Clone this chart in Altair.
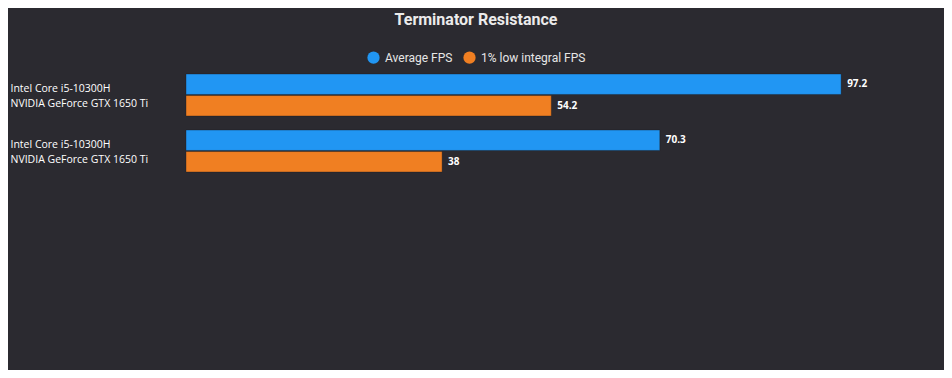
import altair as alt
import pandas as pd

groups = ["Intel Core i5-10300H|NVIDIA GeForce GTX 1650 Ti",
          "Intel Core i5-10300H|NVIDIA GeForce GTX 1650 Ti "]
series = ["Average FPS", "1% low integral FPS"]
avg_fps = [97.2, 70.3]
low_fps = [54.2, 38]
colors = ["#2196f3", "#f07f22"]

rows = []
for i, g in enumerate(groups):
    rows.append({"group": g, "series": series[0], "value": avg_fps[i], "order": 0})
    rows.append({"group": g, "series": series[1], "value": low_fps[i], "order": 1})
df = pd.DataFrame(rows)

BG = "#2b2a30"

y_enc = alt.Y("group:N", sort=groups, title=None,
              scale=alt.Scale(paddingInner=0.25, paddingOuter=0.125),
              axis=alt.Axis(domain=False, ticks=False, grid=False,
                            labelAlign="left", labelPadding=176,
                            labelExpr="split(datum.label, '|')",
                            labelLineHeight=15, labelFontSize=10.5,
                            labelOffset=-6,
                            labelFont="Open Sans", labelColor="#ffffff",
                            labelLimit=300))
x_enc = alt.X("value:Q", title=None,
              scale=alt.Scale(domain=[0, 100], nice=False, zero=True),
              axis=None)
yoff = alt.YOffset("series:N", sort=series,
                   scale=alt.Scale(paddingInner=0.05, paddingOuter=0))

bars = alt.Chart(df).mark_bar(stroke="#1a1a1e", strokeWidth=0.6, strokeOpacity=0.6).encode(
    x=x_enc, y=y_enc, yOffset=yoff,
    color=alt.Color("series:N", sort=series,
                    scale=alt.Scale(domain=series, range=colors),
                    legend=alt.Legend(title=None, orient="none", direction="horizontal",
                                      legendX=181, legendY=-16,
                                      symbolType="circle", symbolSize=150,
                                      symbolStrokeWidth=0,
                                      labelColor="#e6e6e6", labelFontSize=12,
                                      labelFont="Roboto", columnPadding=10,
                                      labelOffset=5)),
)

labels = alt.Chart(df).mark_text(align="left", baseline="middle", dx=6,
                                 fontSize=10, fontWeight="bold",
                                 font="Open Sans", color="#ffffff").encode(
    x=x_enc, y=y_enc, yOffset=yoff, text=alt.Text("value:Q")
)

chart = (bars + labels).properties(
    width=674, height=112,
    background=BG,
    padding={"left": 178, "top": 59, "right": 84, "bottom": 191},
    autosize=alt.AutoSizeParams(type="none"),
    title=alt.TitleParams("Terminator Resistance", anchor="start", align="center",
                          frame="group", dx=290, dy=-19,
                          fontSize=16, font="Roboto", fontWeight="bold",
                          color="#ebebeb"),
).configure_view(stroke=None)

chart.save("out.html", embed_options={"renderer": "svg", "actions": False})
